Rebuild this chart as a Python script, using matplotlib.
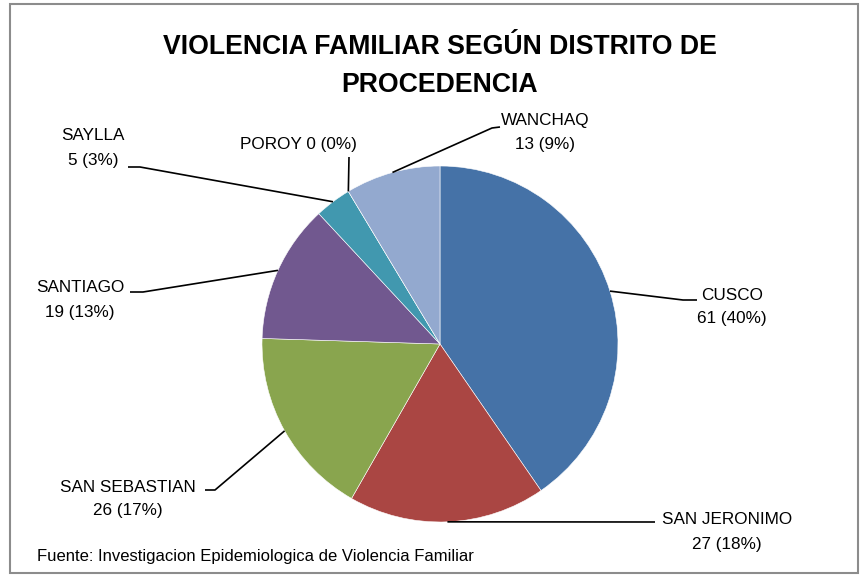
import numpy as np
import matplotlib
matplotlib.use('Agg')
from matplotlib import pyplot as plt
from matplotlib.patches import Rectangle


# Data

districts = ['CUSCO', 'SAN JERONIMO', 'SAN SEBASTIAN', 'SANTIAGO', 'SAYLLA', 'POROY', 'WANCHAQ']
cases = [61, 27, 26, 19, 5, 0, 13]
colors = ['#4572A7', '#AA4643', '#89A54E', '#71588F', '#4198AF', '#DB843D', '#93A9CF']

title = 'VIOLENCIA FAMILIAR SEGÚN DISTRITO DE\nPROCEDENCIA'
source = 'Fuente: Investigacion Epidemiologica de Violencia Familiar'

# label layout in pixels (y down): text centre, elbow of the leader, end of the leader
label_pos = {
    'CUSCO':         ((732, 307), (683, 300), (697, 300)),
    'SAN JERONIMO':  ((727, 532), (652, 522), (655, 522)),
    'SAN SEBASTIAN': ((128, 499), (215, 490), (205, 490)),
    'SANTIAGO':      ((80, 300), (143, 292), (130, 292)),
    'SAYLLA':        ((93, 148), (140, 167), (128, 167)),
    'POROY':         ((298, 145), (349, 157), (349, 157)),
    'WANCHAQ':       ((545, 133), (492, 128), (500, 127)),
}

W, H = 861, 582
cx, cy, r = 440, 344, 178

plt.rcParams['font.family'] = ['Liberation Sans', 'DejaVu Sans']

fig = plt.figure(figsize=(W / 100, H / 100), dpi=100)
ax = fig.add_axes([0, 0, 1, 1])

total = sum(cases)
ax.pie(cases, colors=colors, startangle=90, counterclock=False,
       center=(cx, H - cy), radius=r,
       wedgeprops=dict(edgecolor='white', linewidth=0.4))
ax.set_xlim(0, W)
ax.set_ylim(0, H)
ax.set_aspect('auto')
ax.axis('off')

# labels with leader lines
start = 0
for name, v in zip(districts, cases):
    mid = (start + v / 2) / total * 360
    start += v
    ang = np.deg2rad(90 - mid)
    px, py = cx + r * np.cos(ang), cy - r * np.sin(ang)
    (tx, ty), (ex, ey), (lx, ly) = label_pos[name]
    ax.plot([px, ex, lx], [H - py, H - ey, H - ly], color='black', lw=1.2,
            solid_capstyle='butt')
    pct = round(v / total * 100)
    if name == 'POROY':
        txt = f'{name} {v} ({pct}%)'
    else:
        txt = f'{name}\n{v} ({pct}%)'
    ax.text(tx, H - ty, txt, ha='center', va='center', fontsize=12.3,
            linespacing=1.75, color='black')

fig.text(440 / W, 1 - 66 / H, title, ha='center', va='center', fontsize=19.2,
         fontweight='bold', linespacing=1.6)
fig.text(37 / W, 1 - 556 / H, source, ha='left', va='center', fontsize=12)

fig.patches.append(Rectangle((10 / W, 1 - 573 / H), 848 / W, 569 / H,
                             transform=fig.transFigure, fill=False,
                             edgecolor='#8c8c8c', lw=1.5))

fig.savefig('out.png', dpi=100)
